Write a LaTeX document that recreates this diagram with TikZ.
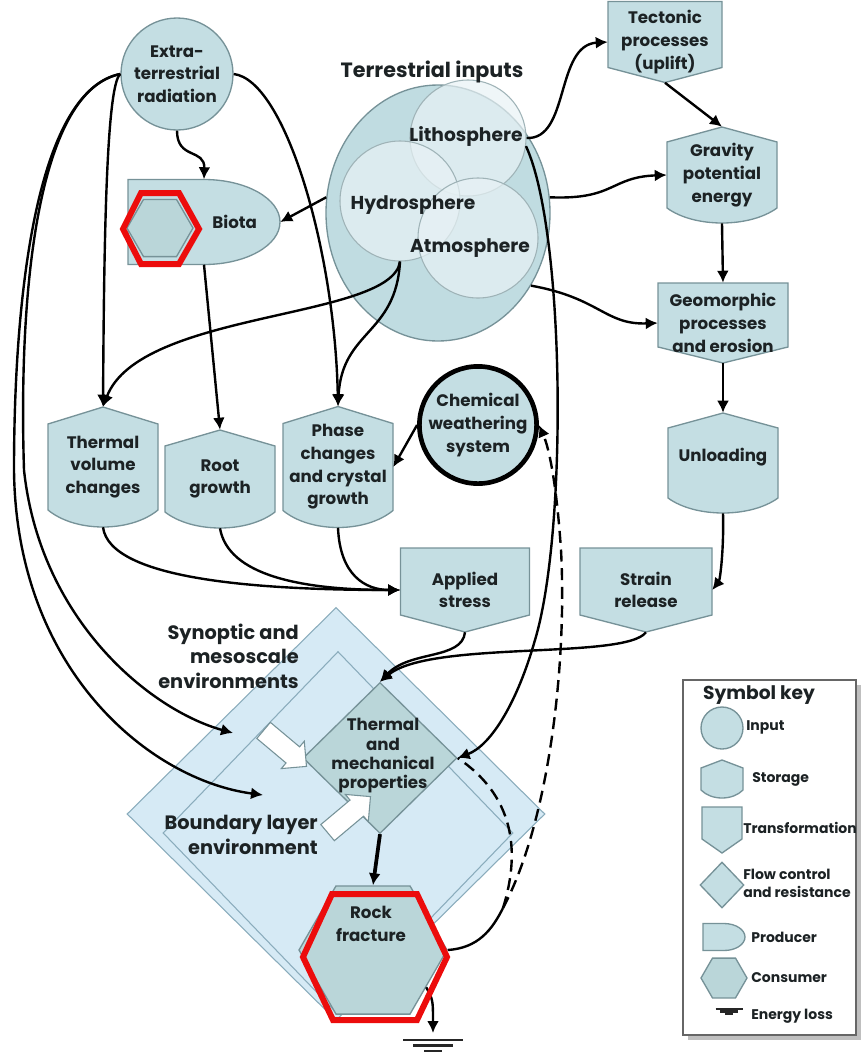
\documentclass[tikz,border=0pt]{standalone}
\usepackage{fontspec}
\setmainfont{Poppins}
\usetikzlibrary{arrows.meta,shapes.geometric,shapes.arrows,shadows}

\definecolor{boxfill}{RGB}{196,222,227}
\definecolor{boxline}{RGB}{118,146,152}
\definecolor{terrfill}{RGB}{192,220,225}
\definecolor{spherefill}{RGB}{232,242,245}
\definecolor{envfill}{RGB}{214,234,245}
\definecolor{envline}{RGB}{138,172,188}
\definecolor{tmpfill}{RGB}{186,214,217}
\definecolor{inkcol}{RGB}{28,34,36}
\definecolor{markred}{RGB}{236,12,12}

\newcommand{\pxu}{0.75pt}

\tikzset{
  shp/.style={fill=boxfill,draw=boxline,line width=1pt},
  lbl/.style={inner sep=0pt,align=center,text=inkcol,font=\bfseries\fontsize{12.5}{17}\selectfont},
  inp/.style={lbl,circle,fill=boxfill,draw=boxline,line width=1pt},
  sph/.style={circle,fill=spherefill,fill opacity=0.7,draw=boxline!70,line width=0.8pt,inner sep=0pt},
  sphtxt/.style={lbl,font=\bfseries\fontsize{14}{17}\selectfont},
  env/.style={diamond,fill=envfill,draw=envline,line width=0.8pt,inner sep=0pt},
  envtxt/.style={lbl,align=right,anchor=east,font=\bfseries\fontsize{14.5}{18.5}\selectfont},
  cons/.style={regular polygon,regular polygon sides=6,fill=tmpfill,draw=boxline,line width=1pt,inner sep=0pt},
  wblk/.style={single arrow,fill=white,draw=boxline,line width=0.8pt,inner sep=7.5pt,minimum height=42pt,single arrow head extend=5.5pt},
  arr/.style={draw=black,line width=1.8pt,-{Latex[length=9pt,width=9pt]}},
  darr/.style={draw=black,line width=1.8pt,dash pattern=on 9pt off 5pt},
  keytxt/.style={inner sep=0pt,anchor=west,align=left,text=inkcol,font=\bfseries\fontsize{10.5}{13.5}\selectfont},
  gndline/.style={draw=black!85,line width=1.8pt},
  redmark/.style={draw=markred,line width=4.5pt,line join=miter}
}

% storage: pointed top, bulging bottom
\newcommand{\storage}[7][17]{%
  \filldraw[shp] ({#3-#5/2},{#4-#6/2+#1}) -- (#3,{#4-#6/2}) -- ({#3+#5/2},{#4-#6/2+#1})
    -- ({#3+#5/2},{#4+#6/2-#1}) .. controls ({#3+#5/4},{#4+#6/2+#1/3}) and ({#3-#5/4},{#4+#6/2+#1/3}) .. ({#3-#5/2},{#4+#6/2-#1}) -- cycle;
  \node[lbl,minimum width=#5*\pxu,minimum height=#6*\pxu] (#2) at (#3,#4) {#7};
}
% transformation: flat top, pointed bottom
\newcommand{\transf}[7][16]{%
  \filldraw[shp] ({#3-#5/2},{#4-#6/2}) -- ({#3+#5/2},{#4-#6/2}) -- ({#3+#5/2},{#4+#6/2-#1})
    -- (#3,{#4+#6/2}) -- ({#3-#5/2},{#4+#6/2-#1}) -- cycle;
  \node[lbl,minimum width=#5*\pxu,minimum height=#6*\pxu] (#2) at (#3,#4) {#7};
}
% producer: flat left, round right
\newcommand{\producer}[6]{%
  \filldraw[shp] ({#2-#4/2},{#3-#5/2}) -- (#2,{#3-#5/2}) arc[start angle=-90,end angle=90,x radius=#4/2,y radius=#5/2] -- ({#2-#4/2},{#3+#5/2}) -- cycle;
  \node[lbl,minimum width=#4*\pxu,minimum height=#5*\pxu] (#1) at (#2,#3) {#6};
}
% energy loss
\newcommand{\energyloss}[3]{%
  \draw[gndline] ({#1-30*#3},#2) -- ({#1+30*#3},#2)
    ({#1-20*#3},{#2+5.5*#3}) -- ({#1+20*#3},{#2+5.5*#3})
    ({#1-9*#3},{#2+11*#3}) -- ({#1+9*#3},{#2+11*#3});
}

\begin{document}
\begin{tikzpicture}[x=0.75pt,y=-0.75pt]
\useasboundingbox (0,0) rectangle (863,1054);
%
% environments
\node[env,minimum width=418*\pxu,minimum height=413*\pxu] (syn) at (336,814) {};
\node[env,minimum width=350*\pxu,minimum height=363*\pxu] (bnd) at (338,833) {};
\node[diamond,fill=tmpfill,draw=boxline,line width=1pt,inner sep=0pt,minimum width=154*\pxu,minimum height=151*\pxu] (tmp) at (380,758) {};
\node[wblk,rotate=-40] (warr1) at (281,745) {};
\node[wblk,rotate=40] (warr2) at (345,818) {};
\node[lbl,font=\bfseries\fontsize{12.5}{14.5}\selectfont] (tmptxt) at (383,756) {Thermal\\and\\mechanical\\properties};
\node[envtxt] (syntxt) at (299,656) {Synoptic and\\mesoscale\\environments};
\node[envtxt] (bndtxt) at (318,835) {Boundary layer\\environment};
\coordinate (synpt) at (233,733);
\coordinate (bndpt) at (263,795);
%
% inputs
\node[inp,minimum size=112*\pxu] (ext) at (177,74) {Extra-\\terrestrial\\radiation};
\node[ellipse,fill=terrfill,draw=boxline,line width=1pt,minimum width=224*\pxu,minimum height=256*\pxu] (terr) at (438,213) {};
\node[sph,minimum size=116*\pxu] (litho) at (468,138) {};
\node[sph,minimum size=120*\pxu] (hydro) at (400,201) {};
\node[sph,minimum size=120*\pxu] (atmo) at (478,238) {};
\node[lbl,font=\bfseries\fontsize{15.5}{18}\selectfont] (terrtxt) at (432,72) {Terrestrial inputs};
\node[sphtxt] (lithotxt) at (466,137) {Lithosphere};
\node[sphtxt] (hydrotxt) at (413,205) {Hydrosphere};
\node[sphtxt] (atmotxt) at (470,248) {Atmosphere};
\node[inp,line width=3.5pt,draw=black,minimum size=114*\pxu] (chem) at (478,425) {Chemical\\weathering\\system};
%
% producer and consumers
\producer{biota}{204}{222}{152}{85}{\hspace*{46pt}Biota}
\node[cons,minimum size=66*\pxu] (biocons) at (160,228) {};
\node[cons,minimum size=148*\pxu] (rock) at (373,950) {};
\node[lbl] (rocktxt) at (371,924) {Rock\\fracture};
%
% storages and transformations
\storage{tvc}{103}{467}{110}{120}{Thermal\\volume\\changes}
\storage[16]{rgr}{220}{479}{110}{98}{Root\\growth}
\storage{pcg}{338}{467}{110}{121}{Phase\\changes\\and crystal\\growth}
\storage[15]{grav}{722}{175}{110}{96}{Gravity\\potential\\energy}
\storage[15]{unl}{723}{463}{110}{100}{\raisebox{12pt}{Unloading}}
\transf[15]{tec}{665}{42}{114}{81}{Tectonic\\processes\\(uplift)}
\transf{geo}{723}{323}{130}{80}{Geomorphic\\processes\\and erosion}
\transf[17]{aps}{465}{590}{129}{84}{Applied\\stress}
\transf[17]{str}{646}{590}{132}{84}{Strain\\release}
\coordinate (split) at (503,908);
\coordinate (gnd) at (433,1033);
%
% connectors
\draw[arr] (ext.south) .. controls (177,160) and (205,148) .. (biota.north);
\draw[arr] (ext.west) .. controls (106,85) and (104,250) .. (tvc.north);
\draw[arr] (ext.west) .. controls (40,90) and (18,280) .. (24,470) .. controls (40,620) and (150,710) .. (synpt);
\draw[arr] (ext.west) .. controls (40,90) and (14,280) .. (14,470) .. controls (16,670) and (150,780) .. (bndpt);
\draw[arr] (ext.east) .. controls (285,80) and (335,250) .. (pcg.north);
\draw[arr] (terr.172) -- (biota.east);
\draw[arr] (litho.east) .. controls (570,140) and (555,45) .. (tec.west);
\draw[arr] (terr.8) .. controls (615,200) and (610,177) .. (grav.west);
\draw[arr] (terr.-38) .. controls (600,298) and (605,325) .. (geo.west);
\draw[arr] (litho.-8) .. controls (565,230) and (568,530) .. (535,640) .. controls (518,700) and (492,745) .. (tmp.east);
\draw[arr] (biota.south) -- (rgr.north);
\draw[arr] (hydro.south) .. controls (392,320) and (140,310) .. (tvc.north);
\draw[arr] (hydro.south) .. controls (396,335) and (342,330) .. (pcg.north);
\draw[arr] (chem.west) -- (pcg.east);
%
\draw[arr] (tec.south) -- (grav.north);
\draw[arr] (grav.south) -- (geo.north);
\draw[arr] (geo.south) -- (unl.north);
\draw[arr] (unl.south) .. controls (724,550) and (720,580) .. (str.east);
%
\draw[arr] (tvc.south) .. controls (110,580) and (260,590) .. (aps.west);
\draw[arr] (rgr.south) .. controls (228,575) and (300,590) .. (aps.west);
\draw[arr] (pcg.south) .. controls (340,575) and (365,590) .. (aps.west);
\draw[arr] (str.south) .. controls (625,660) and (430,640) .. (tmp.north);
\draw[arr] (aps.south) .. controls (462,660) and (410,650) .. (tmp.north);
%
\draw[arr,line width=2.8pt] (tmp.south) -- (rock.north);
\draw[line width=1.8pt] (rock.east) .. controls (478,948) and (492,930) .. (split);
\draw[darr,-{Latex[length=9pt,width=9pt]}] (split) .. controls (550,820) and (567,660) .. (561,550) .. controls (557,490) and (550,450) .. (chem.east);
\draw[darr] (split) .. controls (518,860) and (520,800) .. (tmp.east);
\draw[arr] (rock.-35) .. controls (433,1000) .. (gnd);
\energyloss{433}{1040}{1}
%
% symbol key
\node[draw=black!60,fill=white,line width=0.8pt,minimum width=173*\pxu,minimum height=355*\pxu,
  drop shadow={shadow xshift=4pt,shadow yshift=-4pt,opacity=1,fill=black!25}] (key) at (769.5,857.5) {};
\node[lbl,font=\bfseries\fontsize{14}{16}\selectfont] (keyttl) at (759,695) {Symbol key};
\node[inp,minimum size=42*\pxu] (kin) at (722,728) {};
\node[keytxt] (kintxt) at (746,727) {Input};
\storage[8]{kst}{722}{779}{42}{38}{}
\node[keytxt] (ksttxt) at (752,779) {Storage};
\transf[14]{ktr}{722}{830}{40}{46}{}
\node[keytxt] (ktrtxt) at (743,828) {Transformation};
\node[diamond,fill=boxfill,draw=boxline,line width=1pt,inner sep=0pt,minimum width=44*\pxu,minimum height=46*\pxu] (kfl) at (722,885) {};
\node[keytxt] (kfltxt) at (743,883) {Flow control\\and resistance};
\producer{kpr}{724}{937}{42}{27}{}
\node[keytxt] (kprtxt) at (751,937) {Producer};
\node[cons,minimum size=46*\pxu] (kco) at (724,978) {};
\node[keytxt] (kcotxt) at (751,978) {Consumer};
\energyloss{729}{1009}{0.45}
\node[keytxt] (kgtxt) at (751,1016) {Energy loss};
%
% red marks
\draw[redmark] (123,229) -- (141,193) -- (179,193) -- (199,229) -- (179,264) -- (141,264) -- cycle;
\draw[redmark] (303,957) -- (332,894) -- (417,894) -- (447,957) -- (417,1020) -- (333,1020) -- cycle;
\end{tikzpicture}
\end{document}
